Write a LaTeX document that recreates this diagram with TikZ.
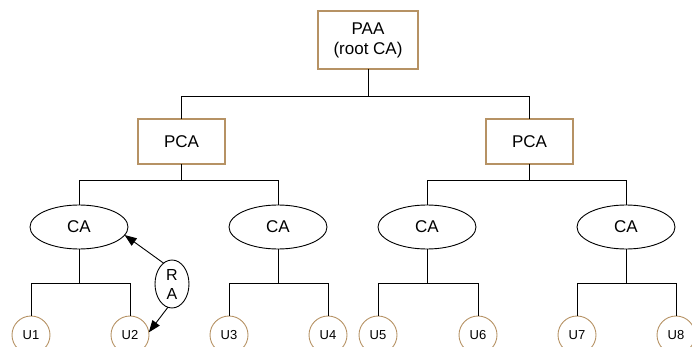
\documentclass[tikz,border=0pt]{standalone}
\usepackage{fontspec}
\setmainfont{Liberation Sans}
\usetikzlibrary{shapes.geometric,arrows.meta}
\definecolor{tan}{RGB}{182,146,100}
\begin{document}
\begin{tikzpicture}[x=1pt,y=1pt,
  every node/.style={inner sep=0pt,outer sep=0pt},
  bigtext/.style={font=\fontsize{17}{20}\selectfont},
  authbox/.style={draw=tan,line width=1.1pt,rectangle,bigtext,align=center},
  caellipse/.style={draw,line width=0.9pt,ellipse,minimum width=98pt,minimum height=44pt,bigtext},
  userc/.style={draw=tan,line width=0.9pt,circle,minimum size=38pt,font=\fontsize{13}{15}\selectfont},
  tree/.style={draw,line width=0.9pt},
  raarrow/.style={draw,line width=0.9pt,-{Triangle[length=12pt,width=9pt]}}
]
\useasboundingbox (0,0) rectangle (692,-347);

% authority boxes
\node[authbox,minimum width=100pt,minimum height=58pt] (paa) at (368,-40) {PAA\\(root CA)};
\node[authbox,minimum width=87pt,minimum height=45pt] (pca1) at (181.5,-141.5) {PCA};
\node[authbox,minimum width=87pt,minimum height=45pt] (pca2) at (529.5,-141.5) {PCA};

% certification authorities
\node[caellipse] (ca1) at (79,-227) {CA};
\node[caellipse] (ca2) at (278,-227) {CA};
\node[caellipse] (ca3) at (427,-227) {CA};
\node[caellipse] (ca4) at (626,-227) {CA};

% registration authority
\node[draw,line width=0.9pt,ellipse,minimum width=34pt,minimum height=48pt,align=center,
      font=\fontsize{16}{19}\selectfont] (ra) at (172,-284) {R\\A};

% end users
\node[userc] (u1) at (31,-335) {U1};
\node[userc] (u2) at (130,-335) {U2};
\node[userc] (u3) at (229,-335) {U3};
\node[userc] (u4) at (328,-335) {U4};
\node[userc] (u5) at (378,-335) {U5};
\node[userc] (u6) at (478,-335) {U6};
\node[userc] (u7) at (577,-335) {U7};
\node[userc] (u8) at (676,-335) {U8};

% hierarchy connectors
\draw[tree] (paa.south) -- ++(0,-27) -| (pca1.north);
\draw[tree] (paa.south) -- ++(0,-27) -| (pca2.north);

\draw[tree] (pca1.south) -- ++(0,-16) -| (ca1.north);
\draw[tree] (pca1.south) -- ++(0,-16) -| (ca2.north);
\draw[tree] (pca2.south) -- ++(0,-16) -| (ca3.north);
\draw[tree] (pca2.south) -- ++(0,-16) -| (ca4.north);

\draw[tree] (ca1.south) -- ++(0,-34) -| (u1.north);
\draw[tree] (ca1.south) -- ++(0,-34) -| (u2.north);
\draw[tree] (ca2.south) -- ++(0,-34) -| (u3.north);
\draw[tree] (ca2.south) -- ++(0,-34) -| (u4.north);
\draw[tree] (ca3.south) -- ++(0,-34) -| (u5.north);
\draw[tree] (ca3.south) -- ++(0,-34) -| (u6.north);
\draw[tree] (ca4.south) -- ++(0,-34) -| (u7.north);
\draw[tree] (ca4.south) -- ++(0,-34) -| (u8.north);

% registration arrows
\draw[raarrow] (ra.112) -- (ca1.-10);
\draw[raarrow] (ra.-100) -- (u2.8);
\end{tikzpicture}
\end{document}
